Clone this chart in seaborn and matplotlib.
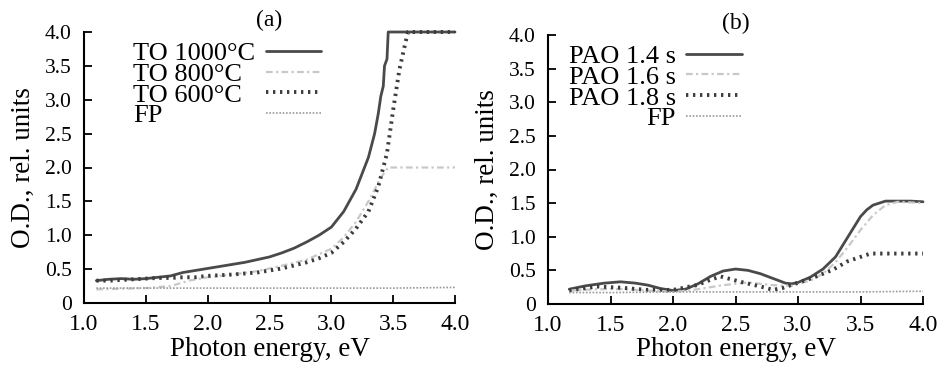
import matplotlib
matplotlib.use("Agg")
import matplotlib.pyplot as plt
import seaborn as sns

# ---------------- data ----------------
# panel (a)
x_to1000 = [1.10, 1.2, 1.3, 1.4, 1.5, 1.6, 1.7, 1.8, 1.9, 2.0, 2.1, 2.2, 2.3, 2.4, 2.5,
            2.6, 2.7, 2.8, 2.9, 3.0, 3.1, 3.2, 3.3, 3.35, 3.38, 3.40, 3.42, 3.43, 3.45,
            3.46, 3.6, 3.8, 4.0]
y_to1000 = [0.33, 0.35, 0.36, 0.35, 0.36, 0.38, 0.40, 0.45, 0.48, 0.51, 0.54, 0.57, 0.60,
            0.64, 0.68, 0.74, 0.81, 0.90, 1.00, 1.12, 1.35, 1.68, 2.15, 2.50, 2.80, 3.05,
            3.20, 3.50, 3.60, 4.00, 4.00, 4.00, 4.00]

x_to800 = [1.10, 1.3, 1.5, 1.7, 1.85, 2.0, 2.2, 2.4, 2.6, 2.8, 3.0, 3.1, 3.2, 3.3, 3.4,
           3.46, 3.6, 3.8, 4.0]
y_to800 = [0.20, 0.21, 0.22, 0.25, 0.33, 0.38, 0.42, 0.47, 0.55, 0.64, 0.80, 0.97, 1.20,
           1.50, 1.85, 2.00, 2.00, 2.00, 2.00]

x_to600 = [1.10, 1.2, 1.3, 1.4, 1.5, 1.6, 1.7, 1.8, 1.9, 2.0, 2.2, 2.4, 2.6, 2.8, 2.9,
           3.0, 3.1, 3.2, 3.3, 3.38, 3.45, 3.5, 3.55, 3.6, 3.62, 3.8, 4.0]
y_to600 = [0.33, 0.33, 0.34, 0.35, 0.36, 0.37, 0.37, 0.38, 0.38, 0.40, 0.42, 0.45, 0.51,
           0.60, 0.66, 0.74, 0.90, 1.10, 1.35, 1.72, 2.21, 2.85, 3.44, 3.85, 4.00, 4.00, 4.00]

x_fp_a = [1.10, 1.5, 2.0, 2.5, 3.0, 3.5, 4.0]
y_fp_a = [0.22, 0.22, 0.22, 0.22, 0.22, 0.22, 0.23]

# panel (b)
x_pao14 = [1.17, 1.3, 1.45, 1.58, 1.7, 1.8, 1.9, 2.0, 2.1, 2.2, 2.3, 2.4, 2.5, 2.6, 2.7,
           2.8, 2.9, 2.95, 3.0, 3.1, 3.2, 3.3, 3.4, 3.5, 3.55, 3.6, 3.7, 3.8, 3.9, 4.0]
y_pao14 = [0.22, 0.27, 0.31, 0.33, 0.31, 0.28, 0.23, 0.20, 0.22, 0.30, 0.41, 0.49, 0.52,
           0.50, 0.45, 0.38, 0.31, 0.30, 0.32, 0.40, 0.52, 0.70, 1.00, 1.30, 1.40, 1.47,
           1.53, 1.53, 1.53, 1.52]

x_pao16 = [1.17, 1.4, 1.6, 1.8, 2.0, 2.2, 2.4, 2.6, 2.8, 2.95, 3.1, 3.2, 3.3, 3.4, 3.5,
           3.6, 3.7, 3.8, 4.0]
y_pao16 = [0.20, 0.22, 0.22, 0.20, 0.18, 0.22, 0.28, 0.32, 0.28, 0.27, 0.35, 0.45, 0.62,
           0.85, 1.10, 1.32, 1.47, 1.52, 1.50]

x_pao18 = [1.17, 1.39, 1.6, 1.79, 2.0, 2.19, 2.3, 2.38, 2.54, 2.7, 2.8, 2.88, 2.99, 3.12,
           3.28, 3.39, 3.5, 3.58, 3.7, 4.0]
y_pao18 = [0.20, 0.26, 0.24, 0.21, 0.21, 0.28, 0.36, 0.41, 0.33, 0.26, 0.21, 0.24, 0.31,
           0.39, 0.51, 0.63, 0.70, 0.75, 0.75, 0.75]

x_fp_b = [1.17, 1.5, 2.0, 2.5, 3.0, 3.5, 4.0]
y_fp_b = [0.17, 0.17, 0.18, 0.18, 0.18, 0.18, 0.19]

labels_a = ["TO 1000°C", "TO 800°C", "TO 600°C", "FP"]
labels_b = ["PAO 1.4 s", "PAO 1.6 s", "PAO 1.8 s", "FP"]
panel_titles = ["(a)", "(b)"]
x_ticks = [1.0, 1.5, 2.0, 2.5, 3.0, 3.5, 4.0]
x_ticklabels = ["1.0", "1.5", "2.0", "2.5", "3.0", "3.5", "4.0"]
y_ticks = [0, 0.5, 1.0, 1.5, 2.0, 2.5, 3.0, 3.5, 4.0]
y_ticklabels = ["0", "0.5", "1.0", "1.5", "2.0", "2.5", "3.0", "3.5", "4.0"]
x_label = "Photon energy, eV"
y_label = "O.D., rel. units"

# ---------------- style ----------------
sns.set_theme(style="ticks")
plt.rcParams["font.family"] = ["Liberation Serif", "DejaVu Serif"]
plt.rcParams["axes.linewidth"] = 1.5
plt.rcParams["text.color"] = "black"

DARK = "#4a4a4a"
LIGHT = "#c8c8c8"
DOTC = "#3c3c3c"
FPC = "#9a9a9a"

styles = [
    dict(color=DARK, lw=2.0, linestyle="-"),
    dict(color=LIGHT, lw=1.6, linestyle=(0, (3, 1.5, 1, 1.5))),
    dict(color=DOTC, lw=2.8, linestyle=(0, (0.6, 1.2))),
    dict(color=FPC, lw=1.2, linestyle=(0, (1, 1))),
]

fig = plt.figure(figsize=(9.4, 3.7), dpi=100)
ax1 = fig.add_axes([84 / 940, 1 - 303 / 370, 371 / 940, 271 / 370])
ax2 = fig.add_axes([548 / 940, 1 - 304 / 370, 375 / 940, 269 / 370])

series_a = [(x_to1000, y_to1000), (x_to800, y_to800), (x_to600, y_to600), (x_fp_a, y_fp_a)]
series_b = [(x_pao14, y_pao14), (x_pao16, y_pao16), (x_pao18, y_pao18), (x_fp_b, y_fp_b)]

for ax, series, labels in [(ax1, series_a, labels_a), (ax2, series_b, labels_b)]:
    for (xs, ys), lab, st in zip(series, labels, styles):
        sns.lineplot(x=xs, y=ys, ax=ax, label=lab, estimator=None, sort=False,
                     clip_on=False, **st)

for ax, title in [(ax1, panel_titles[0]), (ax2, panel_titles[1])]:
    ax.set_xlim(1.0, 4.0)
    ax.set_ylim(0, 4.0)
    ax.set_xticks(x_ticks)
    ax.set_xticklabels(x_ticklabels)
    ax.set_yticks(y_ticks)
    ax.set_yticklabels(y_ticklabels)
    ax.tick_params(axis="x", direction="in", length=6, width=1.3, labelsize=17, pad=8,
                   colors="black")
    ax.tick_params(axis="y", direction="in", length=6, width=1.3, labelsize=15.5, pad=9,
                   colors="black")
    for s in ["top", "right"]:
        ax.spines[s].set_visible(False)
    for s in ["left", "bottom"]:
        ax.spines[s].set_color("black")
    ax.set_xlabel(x_label, fontsize=19.5, labelpad=1, color="black")
    ax.set_ylabel(y_label, fontsize=19.5, labelpad=6, color="black")
    ax.set_title(title, fontsize=17, pad=4, color="black")
    ax.set_facecolor("white")

leg_kw = dict(markerfirst=False, frameon=False, fontsize=19, handlelength=2.1,
              handletextpad=0.4, labelspacing=-0.1, borderpad=0, borderaxespad=0,
              labelcolor="black")
leg1 = ax1.legend(loc="upper left", bbox_to_anchor=(0.132, 0.965), **leg_kw)
leg2 = ax2.legend(loc="upper right", bbox_to_anchor=(0.517, 0.965), **leg_kw)

# left-align label texts in panel (a) while keeping the handles in one column
fig.canvas.draw()
renderer = fig.canvas.get_renderer()
widths = [t.get_window_extent(renderer).width for t in leg1.get_texts()]
maxw = max(widths)
items = leg1._legend_handle_box.get_children()[0].get_children()
for item, w in zip(items, widths):
    item.sep += (maxw - w) * 72.0 / fig.dpi

fig.savefig("out.png", dpi=100, facecolor="white")
